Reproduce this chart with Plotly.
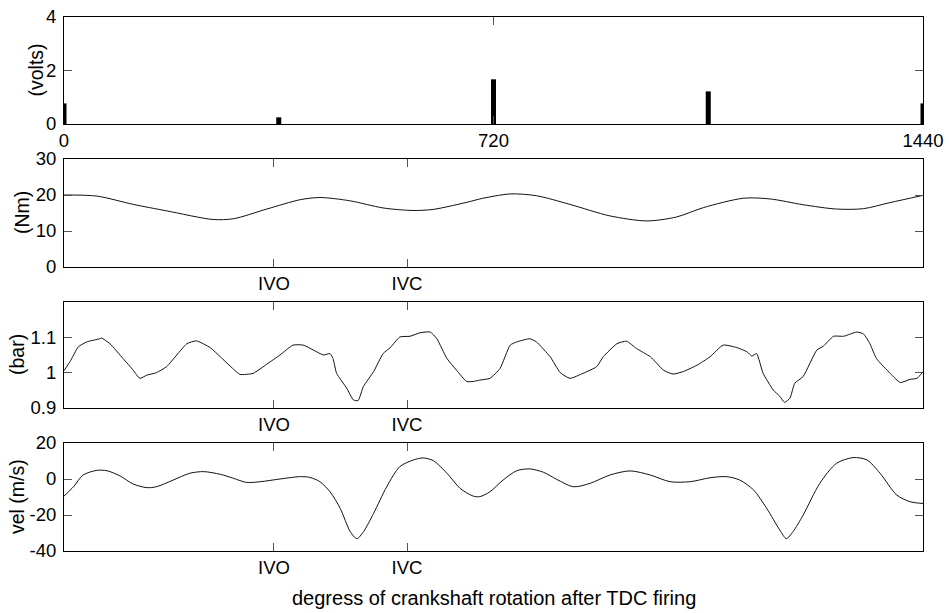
import plotly.graph_objects as go

# ---------------- data ----------------
spark_deg = [0, 360, 720, 1080, 1440]
spark_volts = [0.77, 0.25, 1.67, 1.22, 0.77]

torque_deg = [0, 55, 116, 172, 250, 284, 340, 396, 429, 479, 535, 585, 619, 681, 697,
              748, 792, 848, 915, 977, 1027, 1072, 1139, 1184, 1239, 1295, 1340, 1385, 1440]
torque_nm = [20.0, 19.7, 17.4, 15.6, 13.2, 13.4, 16.1, 18.7, 19.3, 18.4, 16.4, 15.7, 16.0, 18.2, 18.9,
             20.3, 19.8, 17.4, 14.2, 12.8, 13.9, 16.5, 19.1, 18.9, 17.3, 16.1, 16.2, 17.9, 19.9]

press_deg = [0, 10, 24, 38, 60, 63, 77, 99, 116, 127, 139, 155, 172, 189, 206, 222, 245, 262, 284,
             295, 317, 340, 362, 384, 401, 418, 435, 446, 451, 457, 474, 485, 493, 502, 519, 535,
             547, 563, 580, 597, 614, 625, 642, 658, 675, 686, 697, 714, 731, 748, 759, 781, 792,
             815, 832, 848, 870, 893, 904, 927, 943, 960, 983, 1005, 1021, 1038, 1061, 1083, 1105,
             1128, 1145, 1153, 1161, 1172, 1189, 1200, 1208, 1217, 1225, 1239, 1262, 1273, 1290,
             1307, 1329, 1340, 1351, 1362, 1385, 1402, 1418, 1430, 1440]
press_bar = [1.006, 1.031, 1.073, 1.087, 1.096, 1.098, 1.082, 1.040, 1.007, 0.984, 0.993, 1.0,
             1.017, 1.05, 1.082, 1.09, 1.071, 1.045, 1.010, 0.995, 0.998, 1.024, 1.05, 1.078,
             1.078, 1.064, 1.05, 1.054, 1.040, 0.998, 0.956, 0.923, 0.921, 0.961, 1.003, 1.054,
             1.071, 1.101, 1.103, 1.113, 1.115, 1.096, 1.040, 1.007, 0.975, 0.975, 0.979, 0.984,
             1.012, 1.078, 1.087, 1.096, 1.087, 1.045, 1.0, 0.984, 0.998, 1.017, 1.045, 1.082,
             1.089, 1.068, 1.045, 1.007, 0.996, 1.003, 1.021, 1.045, 1.078, 1.071, 1.059, 1.047,
             1.054, 0.998, 0.951, 0.933, 0.916, 0.928, 0.970, 0.989, 1.064, 1.075, 1.103, 1.103,
             1.115, 1.110, 1.082, 1.040, 0.998, 0.972, 0.981, 0.984, 1.003]

vel_deg = [0, 16, 32, 55, 72, 94, 116, 139, 155, 183, 211, 234, 262, 284, 306, 329, 362, 396,
           412, 429, 446, 463, 480, 491, 502, 519, 541, 563, 586, 602, 619, 642, 664, 686, 697,
           714, 736, 759, 781, 804, 826, 854, 882, 915, 949, 983, 1016, 1050, 1083, 1111, 1133,
           1156, 1178, 1200, 1211, 1222, 1239, 1267, 1295, 1323, 1346, 1368, 1396, 1418, 1440]
vel_ms = [-9.5, -4.3, 2.2, 4.8, 4.6, 1.7, -2.8, -4.8, -4.3, -0.6, 3.2, 4.1, 2.6, 0.4, -1.9, -1.5,
          0.0, 1.3, 0.9, -1.5, -7.1, -16.3, -29.3, -33.1, -29.3, -19.1, -4.3, 6.9, 10.6, 11.7,
          10.2, 3.2, -5.2, -9.5, -9.8, -7.1, -0.6, 4.6, 5.6, 3.7, -0.2, -4.3, -2.4, 2.2, 4.5,
          2.2, -1.5, -1.5, 0.7, 1.3, -0.6, -6.1, -16.3, -28.4, -33.1, -29.3, -20.1, -2.4, 8.7,
          11.9, 10.6, 3.2, -8.9, -12.6, -13.6]

top_xticks = [0, 720, 1440]
top_xlabels = ["0", "720", "1440"]
valve_ticks = [352, 575]
valve_labels = ["IVO", "IVC"]

# ---------------- layout geometry ----------------
W, H = 949, 613
def px_x(p):
    return p / W
def px_y(p):
    return 1 - p / H

x_dom = [px_x(64), px_x(923)]
panels = [(17, 124), (159, 267), (302, 408), (443, 551)]
FONT = "Liberation Sans, Arial, sans-serif"
LINE = "#111111"

fig = go.Figure()
fig.add_trace(go.Bar(x=spark_deg, y=spark_volts, width=8.4, marker=dict(color="black", line=dict(width=0)),
                     xaxis="x", yaxis="y", showlegend=False))
fig.add_trace(go.Scatter(x=torque_deg, y=torque_nm, mode="lines", line=dict(color=LINE, width=1, shape="spline", smoothing=0.8),
                         xaxis="x2", yaxis="y2", showlegend=False))
fig.add_trace(go.Scatter(x=press_deg, y=press_bar, mode="lines", line=dict(color=LINE, width=1, shape="spline", smoothing=0.5),
                         xaxis="x3", yaxis="y3", showlegend=False))
fig.add_trace(go.Scatter(x=vel_deg, y=vel_ms, mode="lines", line=dict(color=LINE, width=1, shape="spline", smoothing=0.8),
                         xaxis="x4", yaxis="y4", showlegend=False))

common = dict(showline=True, linecolor="black", linewidth=1, mirror="ticks", ticks="inside",
              ticklen=8, tickwidth=1, tickcolor="#555555", showgrid=False, zeroline=False,
              tickfont=dict(family=FONT, size=18.5, color="black"), fixedrange=True, automargin=False)

yinfo = [
    dict(range=[0, 4], tickvals=[0, 2, 4], ticktext=["0", "2", "4"]),
    dict(range=[0, 30], tickvals=[0, 10, 20, 30], ticktext=["0", "10", "20", "30"]),
    dict(range=[0.9, 1.2], tickvals=[0.9, 1.0, 1.1], ticktext=["0.9", "1", "1.1"]),
    dict(range=[-40, 20], tickvals=[-40, -20, 0, 20], ticktext=["-40", "-20", "0", "20"]),
]

lay = dict(width=W, height=H, margin=dict(l=0, r=0, t=0, b=0, autoexpand=False), paper_bgcolor="white",
           plot_bgcolor="white", showlegend=False, font=dict(family=FONT, size=18, color="black"))
for i, (top, bot) in enumerate(panels):
    n = "" if i == 0 else str(i + 1)
    xa = dict(common, domain=x_dom, range=[0, 1440], anchor="y" + n, ticklabelstandoff=0)
    if i == 0:
        xa.update(tickvals=top_xticks, ticktext=top_xlabels)
    else:
        xa.update(tickvals=valve_ticks, ticktext=valve_labels)
    ya = dict(common, domain=[px_y(bot), px_y(top)], anchor="x" + n, ticklabelstandoff=3, **yinfo[i])
    lay["xaxis" + n] = xa
    lay["yaxis" + n] = ya
fig.update_layout(**lay)

ytitles = [("(volts)", 35), ("(Nm)", 22), ("(bar)", 17), ("vel (m/s)", 17)]
for (txt, xc), (top, bot) in zip(ytitles, panels):
    fig.add_annotation(text=txt, x=px_x(xc), y=px_y((top + bot) / 2), xref="paper", yref="paper",
                       textangle=-90, showarrow=False, xanchor="center", yanchor="middle",
                       font=dict(family=FONT, size=19.5, color="black"))
fig.add_annotation(text="degress of crankshaft rotation after TDC firing", x=px_x(493.5), y=px_y(598),
                   xref="paper", yref="paper", showarrow=False, xanchor="center", yanchor="middle",
                   font=dict(family=FONT, size=20, color="black"))

fig.write_html("out.html")
